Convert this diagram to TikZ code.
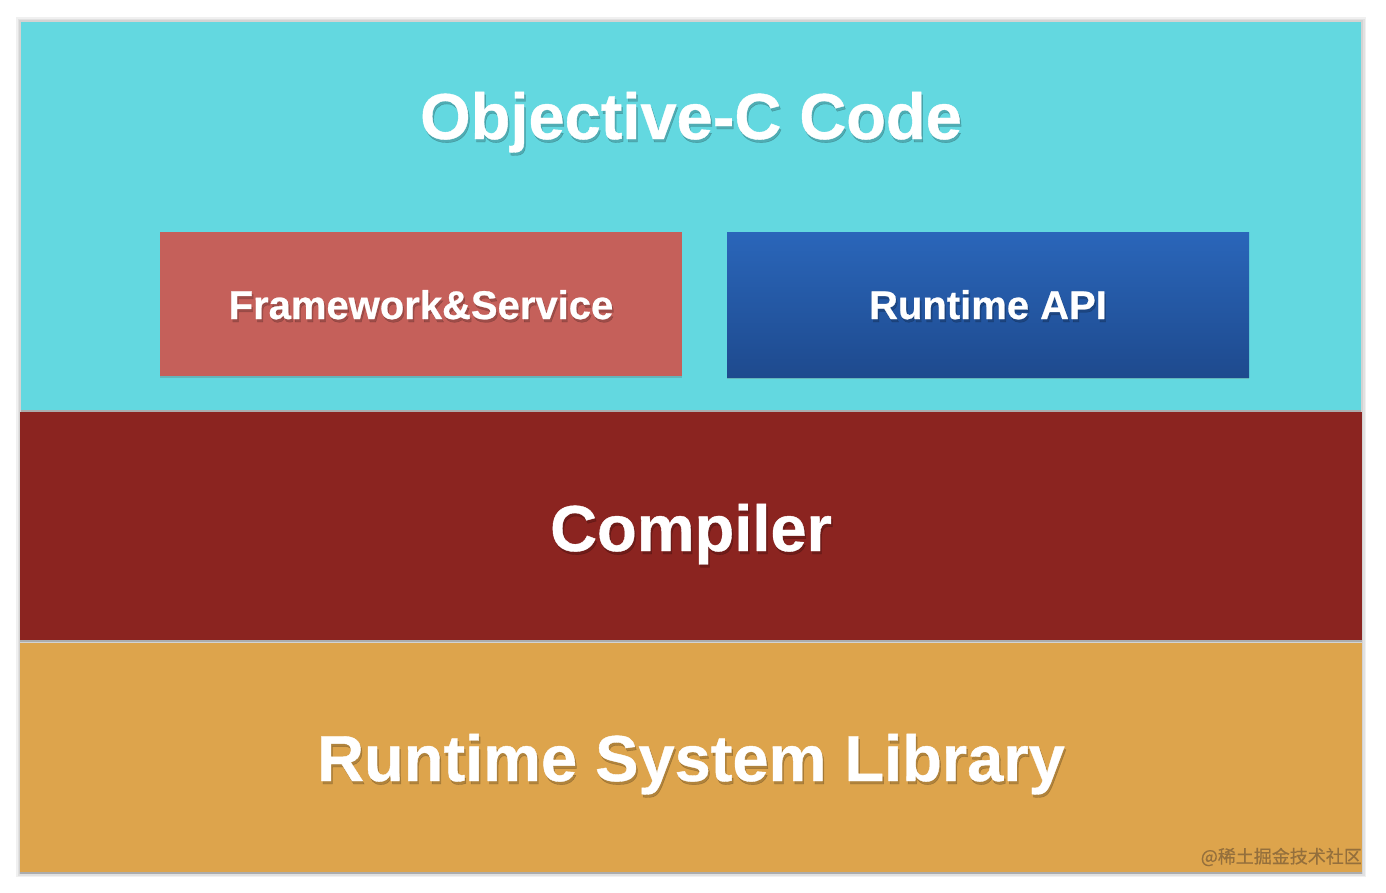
\documentclass[tikz,border=0pt]{standalone}
\usepackage{fontspec}
\setmainfont{Liberation Sans}
\newfontfamily\heavy[FakeBold=0.6]{Liberation Sans Bold}
\newfontfamily\cjk[FakeBold=0.4]{Noto Sans CJK SC}
\usetikzlibrary{shadows,calc}
\definecolor{cyanbg}{HTML}{63D8E0}
\definecolor{compred}{HTML}{8B2420}
\definecolor{liborange}{HTML}{DDA44C}
\definecolor{fwred}{HTML}{C5605A}
\definecolor{apitop}{HTML}{2A66BA}
\definecolor{apibot}{HTML}{1E4A8E}
\definecolor{wmark}{HTML}{946F3C}
\tikzset{
  halo/.style={fill=black, fill opacity=0.06, draw=none},
  layer/.style={draw=none,
    drop shadow={shadow xshift=0pt, shadow yshift=-1.5pt, opacity=0.35, fill=black!60}},
  innerbox/.style={draw=none,
    drop shadow={shadow xshift=0pt, shadow yshift=-1.5pt, opacity=0.3, fill=black!60}},
  bigtxt/.style={text=white, font=\heavy\fontsize{65}{70}\selectfont, anchor=base, inner sep=0pt},
  midtxt/.style={text=white, font=\heavy\fontsize{40}{44}\selectfont, anchor=base, inner sep=0pt},
  shadowtxt/.style={text=black, text opacity=0.2},
}
\newcommand{\shtext}[4]{%
  \node[#1, shadowtxt] at ($(#3)+(1.5,3)$) {#4};
  \node[#1] (#2) at (#3) {#4};}
\begin{document}
\begin{tikzpicture}[x=1pt,y=-1pt]
\useasboundingbox (0,0) rectangle (1386,892);
\fill[white] (0,0) rectangle (1386,892);
% soft halo round the stack
\foreach \d in {1,2.5,4}{
  \path[halo] (20-\d,21-\d) rectangle (1362+\d,873+\d);
}
% layers
\path[layer, fill=liborange] (20,643) rectangle (1362,872);
\path[layer, fill=compred] (20,412) rectangle (1362,640);
\path[layer, fill=cyanbg] (21,22) rectangle (1361,410);
% inner boxes
\path[innerbox, fill=fwred] (160,232) rectangle (682,376);
\path[innerbox, top color=apitop, bottom color=apibot] (727,232) rectangle (1249,377);
% anchors for text
\coordinate (pobj) at (691,139);
\coordinate (pcomp) at (691,551);
\coordinate (plib) at (691,781);
\coordinate (pfw) at (421,319);
\coordinate (papi) at (988,319);
\shtext{bigtxt}{tobj}{pobj}{Objective-C Code}
\shtext{bigtxt}{tcomp}{pcomp}{Compiler}
\shtext{bigtxt}{tlib}{plib}{Runtime System Library}
\shtext{midtxt}{tfw}{pfw}{Framework\&Service}
\shtext{midtxt}{tapi}{papi}{Runtime API}
% watermark
\node[anchor=east, inner sep=0pt, text=wmark, font=\cjk\fontsize{18}{20}\selectfont] (wm) at (1362,857) {@稀土掘金技术社区};
\end{tikzpicture}
\end{document}
